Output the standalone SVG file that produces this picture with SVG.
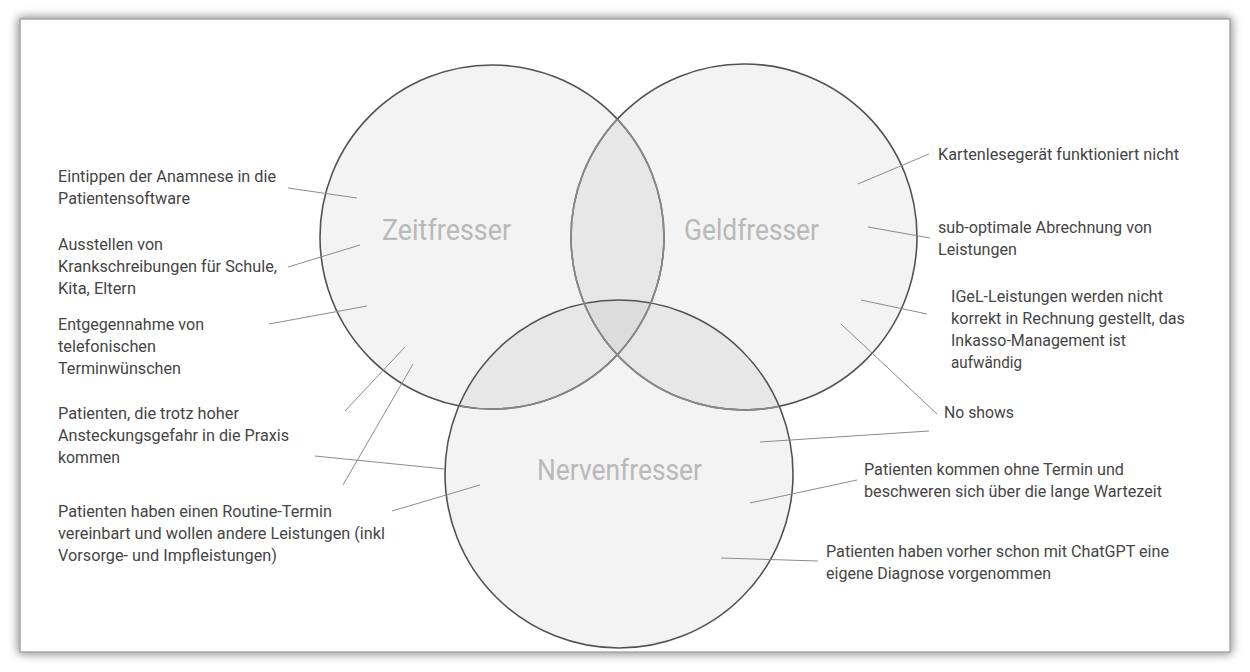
<svg xmlns="http://www.w3.org/2000/svg" width="1250" height="672" viewBox="0 0 1250 672">
  <defs>
    <filter id="cardShadow" x="-5%" y="-5%" width="110%" height="110%">
      <feGaussianBlur stdDeviation="4"/>
    </filter>
    <clipPath id="inZeit"><circle cx="492" cy="237" r="172"/></clipPath>
    <clipPath id="inGeld"><circle cx="744" cy="237" r="173"/></clipPath>
    <clipPath id="inZeitOrNerven">
      <circle cx="492" cy="237" r="172"/>
      <circle cx="619" cy="474" r="174"/>
    </clipPath>
    <clipPath id="inGeldOrNerven">
      <circle cx="744" cy="237" r="173"/>
      <circle cx="619" cy="474" r="174"/>
    </clipPath>
  </defs>
  <style>
    .set { fill: #000; fill-opacity: 0.047; stroke: #525252; stroke-width: 1.6; }
    .inner { fill: none; stroke: #8a8a8a; stroke-width: 1.6; }
    .title { font-family: Roboto, "Liberation Sans", sans-serif; font-size: 30px; fill: #b9b9b9; }
    .label { font-family: Roboto, "Liberation Sans", sans-serif; font-size: 17px; fill: #454545; }
    .leader { stroke: #8c8c8c; stroke-width: 1; fill: none; }
  </style>

  <!-- page and card -->
  <rect x="0" y="0" width="1250" height="672" fill="#ffffff"/>
  <rect x="17" y="16" width="1216" height="639" rx="6" fill="#9a9a9a" filter="url(#cardShadow)"/>
  <rect x="20" y="19" width="1210" height="633" fill="#ffffff" stroke="#a8a8a8" stroke-width="1.5"/>

  <!-- sets -->
  <g id="zeitfresser">
    <circle class="set" cx="492" cy="237" r="172"/>
    <text class="title" x="382" y="240" textLength="129" lengthAdjust="spacingAndGlyphs">Zeitfresser</text>
  </g>
  <g id="geldfresser">
    <circle class="set" cx="744" cy="237" r="173"/>
    <text class="title" x="684" y="240" textLength="135" lengthAdjust="spacingAndGlyphs">Geldfresser</text>
  </g>
  <g id="nervenfresser">
    <circle class="set" cx="619" cy="474" r="174"/>
    <text class="title" x="537" y="480" textLength="165" lengthAdjust="spacingAndGlyphs">Nervenfresser</text>
  </g>
  <!-- softer arcs where circles run inside one another -->
  <g id="overlap-arcs">
    <circle class="inner" cx="492" cy="237" r="172" clip-path="url(#inGeldOrNerven)"/>
    <circle class="inner" cx="744" cy="237" r="173" clip-path="url(#inZeitOrNerven)"/>
  </g>

  <!-- leader lines -->
  <g id="connectors">
    <line class="leader" x1="288" y1="188" x2="357" y2="198"/>
    <line class="leader" x1="288" y1="267" x2="360" y2="245"/>
    <line class="leader" x1="269" y1="324" x2="367" y2="306"/>
    <line class="leader" x1="345" y1="411" x2="405" y2="347"/>
    <line class="leader" x1="343" y1="485" x2="413" y2="364"/>
    <line class="leader" x1="315" y1="456" x2="445" y2="469"/>
    <line class="leader" x1="392" y1="511" x2="480" y2="485"/>
    <line class="leader" x1="858" y1="184" x2="929" y2="154"/>
    <line class="leader" x1="868" y1="227" x2="930" y2="238"/>
    <line class="leader" x1="861" y1="300" x2="927" y2="314"/>
    <line class="leader" x1="841" y1="324" x2="937" y2="414"/>
    <line class="leader" x1="760" y1="442" x2="929" y2="431"/>
    <line class="leader" x1="750" y1="503" x2="857" y2="480"/>
    <line class="leader" x1="721" y1="558" x2="818" y2="561"/>
  </g>

  <!-- left labels -->
  <g id="label-anamnese">
    <text class="label" x="58" y="182" textLength="218" lengthAdjust="spacingAndGlyphs">Eintippen der Anamnese in die</text>
    <text class="label" x="58" y="204" textLength="132" lengthAdjust="spacingAndGlyphs">Patientensoftware</text>
  </g>
  <g id="label-krankschreibungen">
    <text class="label" x="58" y="250" textLength="105" lengthAdjust="spacingAndGlyphs">Ausstellen von</text>
    <text class="label" x="58" y="272" textLength="219" lengthAdjust="spacingAndGlyphs">Krankschreibungen für Schule,</text>
    <text class="label" x="58" y="294" textLength="78" lengthAdjust="spacingAndGlyphs">Kita, Eltern</text>
  </g>
  <g id="label-terminwuensche">
    <text class="label" x="58" y="330" textLength="146" lengthAdjust="spacingAndGlyphs">Entgegennahme von</text>
    <text class="label" x="58" y="352" textLength="98" lengthAdjust="spacingAndGlyphs">telefonischen</text>
    <text class="label" x="58" y="374" textLength="123" lengthAdjust="spacingAndGlyphs">Terminwünschen</text>
  </g>
  <g id="label-ansteckung">
    <text class="label" x="58" y="419" textLength="181" lengthAdjust="spacingAndGlyphs">Patienten, die trotz hoher</text>
    <text class="label" x="58" y="441" textLength="231" lengthAdjust="spacingAndGlyphs">Ansteckungsgefahr in die Praxis</text>
    <text class="label" x="58" y="463" textLength="62" lengthAdjust="spacingAndGlyphs">kommen</text>
  </g>
  <g id="label-routine">
    <text class="label" x="58" y="517" textLength="274" lengthAdjust="spacingAndGlyphs">Patienten haben einen Routine-Termin</text>
    <text class="label" x="58" y="539" textLength="327" lengthAdjust="spacingAndGlyphs">vereinbart und wollen andere Leistungen (inkl</text>
    <text class="label" x="58" y="561" textLength="219" lengthAdjust="spacingAndGlyphs">Vorsorge- und Impfleistungen)</text>
  </g>

  <!-- right labels -->
  <g id="label-kartenleser">
    <text class="label" x="938" y="160" textLength="241" lengthAdjust="spacingAndGlyphs">Kartenlesegerät funktioniert nicht</text>
  </g>
  <g id="label-abrechnung">
    <text class="label" x="938" y="233" textLength="214" lengthAdjust="spacingAndGlyphs">sub-optimale Abrechnung von</text>
    <text class="label" x="938" y="255" textLength="79" lengthAdjust="spacingAndGlyphs">Leistungen</text>
  </g>
  <g id="label-igel">
    <text class="label" x="951" y="302" textLength="212" lengthAdjust="spacingAndGlyphs">IGeL-Leistungen werden nicht</text>
    <text class="label" x="951" y="324" textLength="234" lengthAdjust="spacingAndGlyphs">korrekt in Rechnung gestellt, das</text>
    <text class="label" x="951" y="346" textLength="175" lengthAdjust="spacingAndGlyphs">Inkasso-Management ist</text>
    <text class="label" x="951" y="368" textLength="71" lengthAdjust="spacingAndGlyphs">aufwändig</text>
  </g>
  <g id="label-noshows">
    <text class="label" x="944" y="418" textLength="70" lengthAdjust="spacingAndGlyphs">No shows</text>
  </g>
  <g id="label-wartezeit">
    <text class="label" x="864" y="475" textLength="260" lengthAdjust="spacingAndGlyphs">Patienten kommen ohne Termin und</text>
    <text class="label" x="864" y="497" textLength="298" lengthAdjust="spacingAndGlyphs">beschweren sich über die lange Wartezeit</text>
  </g>
  <g id="label-chatgpt">
    <text class="label" x="826" y="557" textLength="343" lengthAdjust="spacingAndGlyphs">Patienten haben vorher schon mit ChatGPT eine</text>
    <text class="label" x="826" y="579" textLength="225" lengthAdjust="spacingAndGlyphs">eigene Diagnose vorgenommen</text>
  </g>
</svg>
